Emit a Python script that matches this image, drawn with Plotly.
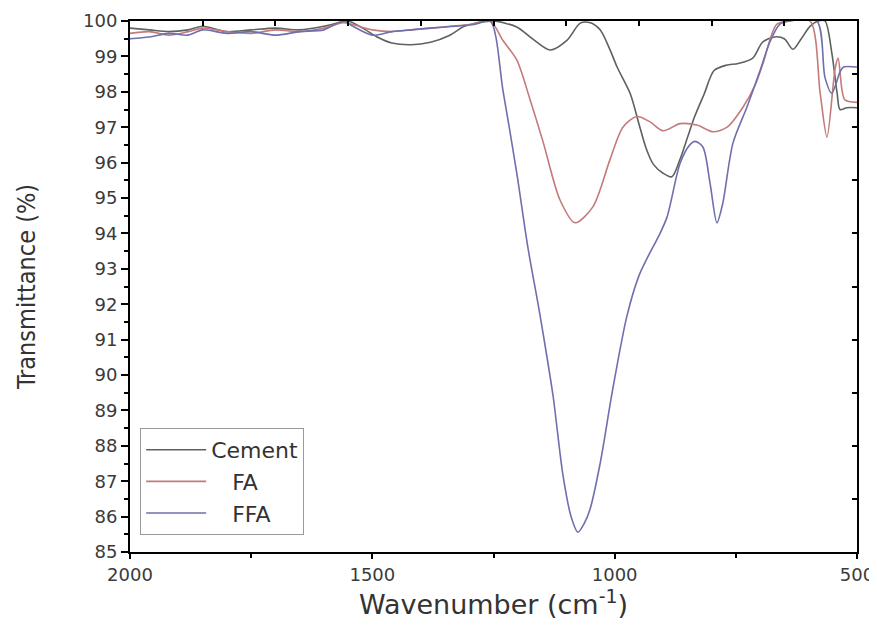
import plotly.graph_objects as go

# ---- data ----
cement_wn = [2000, 1960, 1920, 1880, 1850, 1800, 1750, 1700, 1650, 1600, 1570, 1550, 1520, 1490,
             1460, 1420, 1380, 1340, 1310, 1280, 1250, 1202, 1170, 1133, 1098, 1071, 1050, 1030,
             1010, 995, 968, 950, 935, 920, 900, 882, 865, 850, 835, 815, 795, 770, 745, 715, 695,
             670, 650, 632, 615, 597, 580, 566, 552, 541, 535, 521, 500]
cement_t = [99.8, 99.75, 99.7, 99.75, 99.85, 99.7, 99.75, 99.8, 99.75, 99.85, 99.95, 100.0, 99.8, 99.55,
            99.38, 99.33, 99.4, 99.6, 99.85, 99.95, 100.0, 99.83, 99.5, 99.18, 99.46, 99.94, 99.95, 99.75,
            99.2, 98.7, 97.95, 97.1, 96.4, 95.95, 95.7, 95.6, 96.1, 96.7, 97.3, 97.95, 98.6, 98.75, 98.8,
            98.95, 99.4, 99.55, 99.5, 99.2, 99.5, 99.85, 100.0, 100.0, 99.1, 97.96, 97.5, 97.55, 97.55]

fa_wn = [2000, 1960, 1920, 1880, 1850, 1800, 1750, 1700, 1650, 1600, 1560, 1540, 1500, 1460, 1420,
         1380, 1340, 1300, 1257, 1230, 1202, 1175, 1148, 1113, 1082, 1045, 1010, 983, 954, 927, 900,
         865, 830, 797, 768, 735, 710, 694, 666, 640, 597, 576, 562, 545, 539, 531, 525, 500]
fa_t = [99.65, 99.7, 99.6, 99.7, 99.8, 99.7, 99.65, 99.75, 99.7, 99.8, 99.95, 99.9, 99.75, 99.7, 99.75,
        99.8, 99.85, 99.9, 100.0, 99.44, 98.9, 97.8, 96.6, 94.95, 94.3, 94.75, 96.07, 97.0, 97.3, 97.15, 96.9,
        97.1, 97.06, 96.87, 97.0, 97.57, 98.2, 98.8, 99.9, 100.0, 100.0, 97.96, 96.72, 98.67, 98.95, 98.05,
        97.77, 97.7]

ffa_wn = [2000, 1960, 1920, 1880, 1850, 1800, 1750, 1700, 1650, 1600, 1560, 1540, 1500, 1460, 1420,
          1380, 1330, 1290, 1257, 1230, 1202, 1179, 1158, 1148, 1127, 1107, 1090, 1076, 1063, 1051, 1030,
          1004, 975, 950, 933, 910, 892, 865, 845, 834, 818, 803, 789, 777, 756, 727, 700, 680, 660, 640,
          583, 566, 552, 535, 528, 500]
ffa_t = [99.5, 99.55, 99.65, 99.6, 99.75, 99.65, 99.7, 99.6, 99.7, 99.75, 100.0, 99.85, 99.6, 99.7, 99.75,
         99.8, 99.85, 99.9, 100.0, 98.0, 95.7, 93.6, 92.0, 91.2, 89.4, 87.2, 86.0, 85.56, 85.8, 86.2, 87.5,
         89.6, 91.65, 92.8, 93.3, 93.9, 94.46, 95.98, 96.5, 96.6, 96.44, 95.4, 94.3, 94.85, 96.55, 97.57,
         98.6, 99.4, 99.9, 100.0, 100.0, 98.4, 97.96, 98.56, 98.7, 98.7]

series_names = ["Cement", "\u00a0\u00a0\u00a0FA", "\u00a0\u00a0\u00a0FFA"]
series_colors = ["#5c625e", "#c47a7a", "#6f6fae"]

x_ticks = [2000, 1500, 1000, 500]
y_ticks = list(range(85, 101))

fig = go.Figure()
for name, wn, t, col in zip(series_names,
                            [cement_wn, fa_wn, ffa_wn],
                            [cement_t, fa_t, ffa_t],
                            series_colors):
    fig.add_trace(go.Scatter(x=wn, y=t, mode="lines", name=name,
                             line=dict(color=col, width=1.6, shape="spline", smoothing=0.8)))

# invisible helper traces so that the mirrored top / right frame axes get drawn
fig.add_trace(go.Scatter(x=cement_wn, y=cement_t, xaxis="x2", yaxis="y", mode="lines",
                         opacity=0, showlegend=False, hoverinfo="skip"))
fig.add_trace(go.Scatter(x=cement_wn, y=cement_t, xaxis="x", yaxis="y2", mode="lines",
                         opacity=0, showlegend=False, hoverinfo="skip"))

tickfont = dict(family="DejaVu Sans", size=18, color="#3a3a3a")

# the page body adds an 8px offset, so the figure is sized smaller to fit the window
fig.update_layout(
    width=869, height=621,
    margin=dict(l=122, r=20, t=13, b=77),
    paper_bgcolor="white", plot_bgcolor="white",
    showlegend=True,
    legend=dict(x=0.014, y=0.2335, xanchor="left", yanchor="top",
                bordercolor="#9a9a9a", borderwidth=1, bgcolor="rgba(255,255,255,0)",
                font=dict(family="DejaVu Sans", size=22, color="#333333"),
                itemwidth=60, tracegroupgap=0),
    xaxis=dict(range=[2000, 500], tickvals=x_ticks, ticktext=[str(v) for v in x_ticks],
               automargin=False,
               ticks="outside", ticklen=5, tickwidth=2, tickcolor="black",
               minor=dict(dtick=250, tick0=2000, ticks="outside", ticklen=4, tickwidth=2, tickcolor="black"),
               showline=True, linecolor="black", linewidth=2, showgrid=False, zeroline=False,
               tickfont=tickfont,
               title=dict(text="Wavenumber (cm<sup>-1</sup>)",
                          font=dict(family="DejaVu Sans", size=27, color="#333333"), standoff=12)),
    yaxis=dict(range=[85, 100], tickvals=y_ticks, ticktext=[str(v) for v in y_ticks],
               automargin=False,
               ticks="outside", ticklen=7, tickwidth=2, tickcolor="black",
               minor=dict(dtick=0.5, tick0=85, ticks="outside", ticklen=4, tickwidth=2, tickcolor="black"),
               showline=True, linecolor="black", linewidth=2, showgrid=False, zeroline=False,
               tickfont=tickfont,
               title=dict(text="Transmittance (%)",
                          font=dict(family="DejaVu Sans Condensed", size=25, color="#333333"), standoff=40)),
    xaxis2=dict(overlaying="x", side="top", anchor="y", range=[2000, 500], automargin=False,
                tick0=2000, dtick=150, ticks="inside", ticklen=5, tickwidth=2, tickcolor="black",
                showticklabels=False, showline=True, linecolor="black", linewidth=2,
                showgrid=False, zeroline=False),
    yaxis2=dict(overlaying="y", side="right", anchor="x", range=[85, 100], automargin=False,
                tick0=100, dtick=1.5, ticks="inside", ticklen=5, tickwidth=2, tickcolor="black",
                showticklabels=False, showline=True, linecolor="black", linewidth=2,
                showgrid=False, zeroline=False),
)

fig.write_html("out.html")
